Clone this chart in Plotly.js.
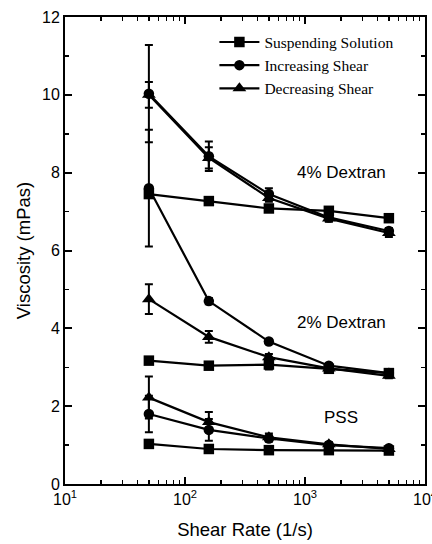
<!DOCTYPE html>
<html>
<head>
<meta charset="utf-8">
<script src="https://cdn.plot.ly/plotly-3.0.1.min.js"></script>
<style>html,body{margin:0;padding:0;background:#fff;}#chart{width:432px;height:544px;}</style>
</head>
<body>
<div id="chart"></div>
<script>
// Shear rates (1/s)
const shearRate = [50, 158, 500, 1580, 5000];

// 4% Dextran
const susp4 = [7.45, 7.27, 7.08, 7.02, 6.83];
const susp4Err = [0.04, 0.04, 0.07, 0.05, 0.04];
const inc4 = [10.03, 8.42, 7.45, 6.85, 6.50];
const inc4Err = [1.25, 0.38, 0.15, 0.10, 0.08];
const dec4 = [10.00, 8.38, 7.35, 6.82, 6.45];
const dec4Err = [0.33, 0.27, 0.10, 0.08, 0.10];

// 2% Dextran
const susp2 = [3.17, 3.04, 3.07, 2.96, 2.85];
const susp2Err = [0.03, 0.03, 0.13, 0.05, 0.05];
const inc2 = [7.60, 4.70, 3.66, 3.04, 2.85];
const inc2Err = [1.50, 0.08, 0.05, 0.05, 0.05];
const dec2 = [4.75, 3.78, 3.26, 2.97, 2.78];
const dec2Err = [0.38, 0.15, 0.08, 0.06, 0.06];

// PSS
const suspP = [1.03, 0.90, 0.87, 0.87, 0.86];
const suspPErr = [0.03, 0.03, 0.03, 0.03, 0.03];
const incP = [1.80, 1.39, 1.17, 1.00, 0.92];
const incPErr = [0.47, 0.28, 0.08, 0.05, 0.05];
const decP = [2.22, 1.59, 1.20, 1.02, 0.90];
const decPErr = [0.54, 0.26, 0.10, 0.05, 0.05];

const seriesNames = ['Suspending Solution', 'Increasing Shear', 'Decreasing Shear'];
const symbols = ['square', 'circle', 'triangle-up'];

const groups = [
  [[susp4, susp4Err], [inc4, inc4Err], [dec4, dec4Err]],
  [[susp2, susp2Err], [inc2, inc2Err], [dec2, dec2Err]],
  [[suspP, suspPErr], [incP, incPErr], [decP, decPErr]]
];

const xTickVals = [10, 100, 1000, 10000];
const xTickText = ['10<sup>1</sup>', '10<sup>2</sup>', '10<sup>3</sup>', '10<sup>4</sup>'];

const annotationsText = ['4% Dextran', '2% Dextran', 'PSS'];
const annotationX = [2000, 2000, 2000];
const annotationY = [8.0, 4.14, 1.70];

const traces = [];
groups.forEach((g, gi) => {
  g.forEach((s, si) => {
    traces.push({
      x: shearRate, y: s[0], type: 'scatter', mode: 'lines+markers',
      name: seriesNames[si],
      legendgroup: seriesNames[si],
      showlegend: gi === 0,
      line: {color: '#000', width: 2.2},
      marker: {symbol: symbols[si], size: si === 2 ? 12 : 10.5, color: '#000'},
      error_y: {type: 'data', array: s[1], visible: true, color: '#000', thickness: 2, width: 4}
    });
  });
});

const minorVals = [];
[10, 100, 1000].forEach(d => { for (let k = 2; k <= 9; k++) minorVals.push(k * d); });

const axisFont = {family: 'Liberation Sans, Arial, sans-serif', size: 16, color: '#000'};
const titleFont = {family: 'Liberation Sans, Arial, sans-serif', size: 18.5, color: '#000'};

const layout = {
  width: 432, height: 544,
  margin: {l: 65, r: 7, t: 17, b: 60},
  paper_bgcolor: '#fff', plot_bgcolor: '#fff',
  showlegend: true,
  legend: {
    x: 0.415, y: 0.982, xanchor: 'left', yanchor: 'top',
    font: {family: 'Liberation Serif, Times New Roman, serif', size: 15.5, color: '#000'},
    bgcolor: 'rgba(0,0,0,0)', borderwidth: 0, tracegroupgap: 0, itemwidth: 40
  },
  xaxis: {
    type: 'log', range: [1, 4],
    tickmode: 'array', tickvals: xTickVals, ticktext: xTickText,
    ticks: 'inside', ticklen: 7, tickwidth: 2, tickcolor: '#000',
    minor: {tickvals: minorVals, ticks: 'inside', ticklen: 4, tickwidth: 1.5, tickcolor: '#000', showgrid: false},
    showline: true, linecolor: '#000', linewidth: 2, mirror: 'ticks',
    showgrid: false, zeroline: false,
    ticklabeloverflow: 'allow',
    tickfont: axisFont,
    title: {text: 'Shear Rate (1/s)', font: titleFont, standoff: 16}
  },
  yaxis: {
    range: [0, 12], dtick: 2, tick0: 0,
    ticks: 'inside', ticklen: 7, tickwidth: 2, tickcolor: '#000',
    minor: {dtick: 1, ticks: 'inside', ticklen: 4, tickwidth: 1.5, tickcolor: '#000', showgrid: false},
    showline: true, linecolor: '#000', linewidth: 2, mirror: 'ticks',
    showgrid: false, zeroline: false,
    tickfont: axisFont,
    title: {text: 'Viscosity (mPas)', font: titleFont, standoff: 7}
  },
  annotations: annotationsText.map((t, i) => ({
    x: Math.log10(annotationX[i]), y: annotationY[i], xref: 'x', yref: 'y',
    text: t, showarrow: false,
    font: {family: 'Liberation Sans, Arial, sans-serif', size: 17, color: '#000'}
  }))
};

Plotly.newPlot('chart', traces, layout, {displayModeBar: false, staticPlot: true});
</script>
</body>
</html>
